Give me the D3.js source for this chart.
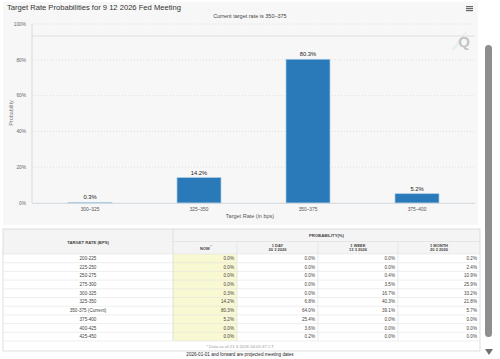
<!DOCTYPE html>
<html><head><meta charset="utf-8">
<script src="https://cdn.jsdelivr.net/npm/d3@7"></script>
<style>html,body{margin:0;padding:0;background:#fff;overflow:hidden}svg{display:block;font-family:"Liberation Sans",Arial,sans-serif}</style>
</head><body><svg id="c" width="500" height="359"></svg>
<script>
const title = "Target Rate Probabilities for 9 12 2026 Fed Meeting";
const subtitle = "Current target rate is 350\u2013375";
const categories = ["300\u2013325","325\u2013350","350\u2013375","375\u2013400"];
const values = [0.3,14.2,80.3,5.2];
const yTicks = [0,20,40,60,80,100];

const rateRows = ["200-225","225-250","250-275","275-300","300-325","325-350","350-375 (Current)","375-400","400-425","425-450"];
const nowVals = [0.0,0.0,0.0,0.0,0.3,14.2,80.3,5.2,0.0,0.0];
const dayVals = [0.0,0.0,0.0,0.0,0.0,6.8,64.0,25.4,3.6,0.2];
const weekVals = [0.0,0.0,0.4,3.5,16.7,40.3,39.1,0.0,0.0,0.0];
const monthVals = [0.2,2.4,10.9,25.9,33.2,21.8,5.7,0.0,0.0,0.0];
const colHeads = [["NOW *"],["1 DAY","20 3 2026"],["1 WEEK","13 3 2026"],["1 MONTH","20 2 2026"]];

const svg = d3.select("#c");
svg.append("rect").attr("x",3).attr("y",2).attr("width",475).attr("height",223).attr("fill","#f7f7f7");
svg.append("text").attr("x",7).attr("y",10).attr("font-size",7.6).attr("fill","#333").text(title);
svg.append("text").attr("x",250).attr("y",18).attr("text-anchor","middle").attr("font-size",5.5).attr("fill","#444").text(subtitle);
[0,2,4].forEach(d=>svg.append("rect").attr("x",466).attr("y",6+d).attr("width",7).attr("height",1.2).attr("fill","#666"));

const y = d3.scaleLinear().domain([0,100]).range([203,24]);
const xb = d3.scaleBand().domain(categories).range([35.5,471.5]);

const g = svg.append("g");
g.selectAll(".grid").data(yTicks.filter(d=>d>0)).join("line")
 .attr("x1",32).attr("x2",475).attr("y1",d=>y(d)).attr("y2",d=>y(d))
 .attr("stroke","#d0d0d0").attr("stroke-width",0.6).attr("stroke-dasharray","1,2");
g.append("line").attr("x1",32).attr("x2",475).attr("y1",36).attr("y2",36).attr("stroke","#e0e0e0").attr("stroke-width",1);
svg.append("line").attr("x1",452).attr("y1",50).attr("x2",466).attr("y2",32).attr("stroke","#cde6f0").attr("stroke-width",0.8);
svg.append("line").attr("x1",454).attr("y1",50).attr("x2",464).attr("y2",36).attr("stroke","#cde6f0").attr("stroke-width",0.6);
svg.append("text").attr("x",464).attr("y",47).attr("text-anchor","middle").attr("font-size",15).attr("font-weight","bold").attr("fill","#c4c4c4").text("Q");

g.selectAll(".yl").data(yTicks).join("text").attr("x",26).attr("y",d=>y(d)+1.8).attr("text-anchor","end")
 .attr("font-size",4.8).attr("fill","#666").text(d=>d+"%");
g.append("line").attr("x1",32).attr("x2",32).attr("y1",24).attr("y2",203).attr("stroke","#ccc").attr("stroke-width",0.7);

g.selectAll(".bar").data(values).join("rect")
 .attr("x",(d,i)=>xb(categories[i])+xb.bandwidth()/2-22).attr("width",44)
 .attr("y",d=>y(d)).attr("height",d=>203-y(d))
 .attr("fill","#2a7ab9").attr("stroke","#a9cde6").attr("stroke-width",0.7);
g.append("line").attr("x1",32).attr("x2",475).attr("y1",203.3).attr("y2",203.3).attr("stroke","#c8cfd8").attr("stroke-width",0.8);
g.selectAll(".bl").data(values).join("text")
 .attr("x",(d,i)=>xb(categories[i])+xb.bandwidth()/2).attr("y",d=>y(d)-3)
 .attr("text-anchor","middle").attr("font-size",5.8).attr("fill","#222").text(d=>d.toFixed(1)+"%");
g.selectAll(".xl").data(categories).join("text")
 .attr("x",d=>xb(d)+xb.bandwidth()/2).attr("y",210.5).attr("text-anchor","middle")
 .attr("font-size",4.8).attr("fill","#555").text(d=>d);
svg.append("text").attr("x",250).attr("y",218).attr("text-anchor","middle").attr("font-size",5.5).attr("fill","#555").text("Target Rate (in bps)");
svg.append("text").attr("transform","translate(13,113) rotate(-90)").attr("text-anchor","middle").attr("font-size",5.5).attr("fill","#777").text("Probability");

const tx0 = 3, tx1 = 480;
const colX = [3,173,237,318,398,480];
const hy0 = 229, hy1 = 241.5, hy2 = 254;
const rowH = 8.7;
const rowsY = rateRows.map((d,i)=>hy2+i*rowH);
const tEnd = hy2 + rateRows.length*rowH;
const tab = svg.append("g");
tab.append("rect").attr("x",tx0).attr("y",hy0).attr("width",tx1-tx0).attr("height",hy2-hy0).attr("fill","#f4f4f4");
tab.append("rect").attr("x",colX[1]).attr("y",hy2).attr("width",colX[2]-colX[1]).attr("height",rateRows.length*rowH).attr("fill","#f8f8d2");
tab.append("rect").attr("x",tx0).attr("y",hy0).attr("width",tx1-tx0).attr("height",tEnd+10-hy0).attr("fill","none").attr("stroke","#d6d6d6").attr("stroke-width",0.8);
tab.append("line").attr("x1",colX[1]).attr("x2",tx1).attr("y1",hy1).attr("y2",hy1).attr("stroke","#e0e0e0").attr("stroke-width",0.7);
tab.append("line").attr("x1",colX[1]).attr("x2",colX[1]).attr("y1",hy0).attr("y2",tEnd).attr("stroke","#d6d6d6").attr("stroke-width",0.7);
[2,3,4].forEach(k=>tab.append("line").attr("x1",colX[k]).attr("x2",colX[k]).attr("y1",hy1).attr("y2",tEnd).attr("stroke","#e0e0e0").attr("stroke-width",0.7));
tab.selectAll(".rl").data(d3.range(rateRows.length+1)).join("line")
 .attr("x1",tx0).attr("x2",tx1).attr("y1",i=>hy2+i*rowH).attr("y2",i=>hy2+i*rowH).attr("stroke","#e2e2e2").attr("stroke-width",0.6);
tab.append("text").attr("x",(colX[0]+colX[1])/2).attr("y",243.5).attr("text-anchor","middle").attr("font-size",4.2).attr("font-weight","bold").attr("fill","#444").text("TARGET RATE (BPS)");
tab.append("text").attr("x",(colX[1]+colX[5])/2).attr("y",237).attr("text-anchor","middle").attr("font-size",4.2).attr("font-weight","bold").attr("fill","#444").text("PROBABILITY(%)");
colHeads.forEach((h,k)=>{
  const cx=(colX[k+1]+colX[k+2])/2;
  if(h.length===1){
    tab.append("text").attr("x",cx).attr("y",249.5).attr("text-anchor","middle").attr("font-size",4).attr("font-weight","bold").attr("fill","#444").text("NOW");
    tab.append("text").attr("x",cx+5.5).attr("y",247.5).attr("font-size",3.5).attr("fill","#444").text("*");
  } else {
    h.forEach((s,j)=>tab.append("text").attr("x",cx).attr("y",246.5+j*4.6).attr("text-anchor","middle").attr("font-size",4).attr("font-weight","bold").attr("fill","#444").text(s));
  }
});
tab.selectAll(".rn").data(rateRows).join("text").attr("x",(colX[0]+colX[1])/2).attr("y",(d,i)=>rowsY[i]+rowH/2+1.6)
 .attr("text-anchor","middle").attr("font-size",4.6).attr("fill","#444").text(d=>d);
[nowVals,dayVals,weekVals,monthVals].forEach((arr,k)=>{
  tab.selectAll(".v"+k).data(arr).join("text").attr("x",colX[k+2]-3).attr("y",(d,i)=>rowsY[i]+rowH/2+1.6)
   .attr("text-anchor","end").attr("font-size",4.6).attr("fill","#444").text(d=>d.toFixed(1)+"%");
});
tab.append("text").attr("x",240).attr("y",tEnd+6.8).attr("text-anchor","middle").attr("font-size",4.3).attr("fill","#999").text("* Data as of 21 3 2026 04:05:37 CT");
svg.append("text").attr("x",240).attr("y",356).attr("text-anchor","middle").attr("font-size",4.6).attr("fill","#222").text("2026-01-01 and forward are projected meeting dates");

svg.append("rect").attr("x",485).attr("y",45).attr("width",7).attr("height",292).attr("rx",3.5).attr("fill","#8e8e8e");
svg.append("path").attr("d","M485,349 L493,349 L489,355 Z").attr("fill","#707070");
</script></body></html>
